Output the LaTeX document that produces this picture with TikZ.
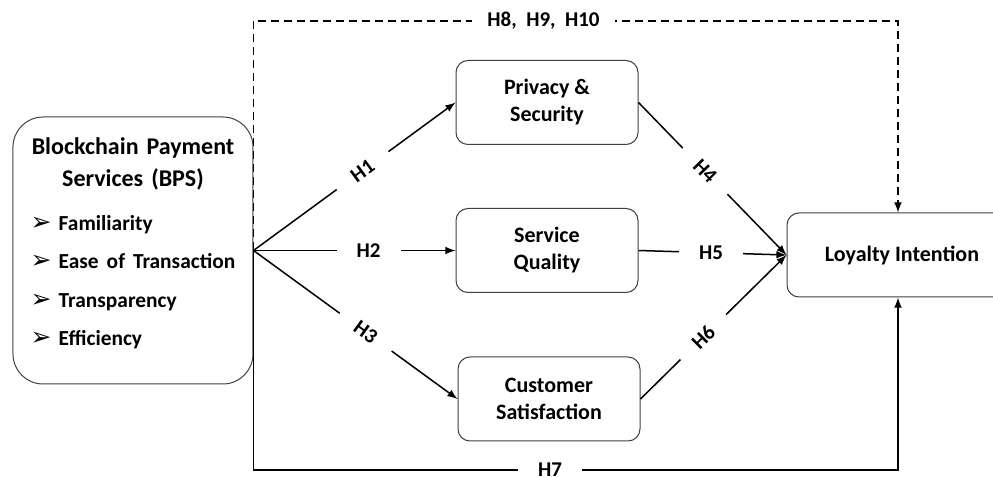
\documentclass[tikz,border=0pt]{standalone}
\usepackage{fontspec}
\setmainfont{Carlito}
\newfontfamily\symfont{DejaVu Sans}
\usetikzlibrary{positioning,shapes,arrows}

% bullet of the list in the BPS box
\newcommand{\bul}[1]{\makebox[14pt][l]{\symfont\fontsize{12.5}{12}\selectfont ➢}#1}

\begin{document}
\begin{tikzpicture}[>=latex, line width=0.75pt,
	construct/.style={rectangle, draw=black!75, line width=0.5pt, rounded corners=6pt, align=center, minimum width=91pt, minimum height=42pt, font=\fontsize{11}{13.5}\selectfont\bfseries},
	hyp/.style={fill=white, inner xsep=10pt, inner ysep=1pt, font=\fontsize{10.5}{12}\selectfont\bfseries}]

	\useasboundingbox (-66.5pt,-113.25pt) rectangle (430pt,125.25pt);

	\node (bps) [rectangle, draw=black!75, line width=0.5pt, rounded corners=15pt, text width=110pt, inner xsep=5pt, minimum height=133.5pt, align=center, font=\fontsize{12}{16}\selectfont\bfseries]
	{
		Blockchain Payment\\ Services (BPS)\\[6pt]
		\fontsize{10.7}{15}\selectfont
		\begin{tabular}[t]{@{}l@{}}
			\bul{Familiarity}\\[4.25pt]
			\bul{Ease of Transaction}\\[4.25pt]
			\bul{Transparency}\\[4.25pt]
			\bul{Efficiency}\\[4.6pt]
		\end{tabular}
	};
	\node (priv) [construct, right=101pt of bps, yshift=74pt] {Privacy \&\\ Security};
	\node (serv) [construct, right=101pt of bps] {Service\\ Quality};
	\node (cust) [construct, right=102pt of bps, yshift=-74.25pt] {Customer\\ Satisfaction};
	\node (loyal) [construct, minimum width=115pt, right=74pt of serv, yshift=-2.25pt] {Loyalty Intention};

	\coordinate (topl) at ([yshift=114.75pt]bps.east);
	\coordinate (botl) at ([yshift=-109.75pt]bps.east);
	\coordinate (topr) at ([xshift=-2pt]loyal.north);
	\coordinate (botr) at ([xshift=-2pt]loyal.south);

	\draw[->] (bps.east) -- node[hyp, sloped, pos=0.54]{H1} (priv.west);
	\draw[->] (bps.east) -- node[hyp, pos=0.57]{H2} (serv.west);
	\draw[->] (bps.east) -- node[hyp, sloped, pos=0.55]{H3} (cust.west);
	\draw[->] (priv.east) -- node[hyp, sloped, pos=0.45]{H4} (loyal.west);
	\draw[->] (serv.east) -- node[hyp, pos=0.49]{H5} (loyal.west);
	\draw[->] (cust.east) -- node[hyp, sloped, pos=0.43]{H6} (loyal.west);

	\draw[->, dashed, dash pattern=on 4pt off 2.5pt] (bps.east) -- (topl) -- node[hyp, inner xsep=7.5pt, pos=0.45]{H8,\ \ H9,\ \ H10} (topl -| topr) -- (topr);
	\draw[->] (bps.east) -- (botl) -- node[hyp, pos=0.46]{H7} (botl -| botr) -- (botr);
\end{tikzpicture}
\end{document}
